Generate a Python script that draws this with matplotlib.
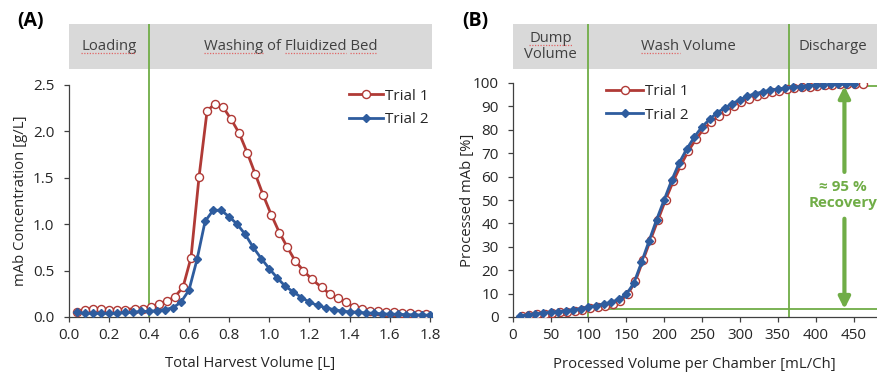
import matplotlib.pyplot as plt
from matplotlib.lines import Line2D

plt.rcParams['font.family'] = ['Open Sans', 'DejaVu Sans']
plt.rcParams['text.color'] = '#262626'
plt.rcParams['axes.labelcolor'] = '#262626'
plt.rcParams['xtick.color'] = '#404040'
plt.rcParams['ytick.color'] = '#404040'
plt.rcParams['xtick.labelcolor'] = '#262626'
plt.rcParams['ytick.labelcolor'] = '#262626'

# (A) elution peak
vol_t1 = [0.04, 0.08, 0.12, 0.16, 0.20, 0.24, 0.28, 0.33, 0.37, 0.41, 0.45,
          0.49, 0.53, 0.57, 0.61, 0.65, 0.69, 0.73, 0.77, 0.81, 0.85, 0.89,
          0.93, 0.97, 1.01, 1.05, 1.09, 1.13, 1.17, 1.21, 1.26, 1.30, 1.34,
          1.38, 1.42, 1.46, 1.50, 1.54, 1.58, 1.62, 1.66, 1.70, 1.74, 1.78]
conc_t1 = [0.05, 0.08, 0.09, 0.09, 0.08, 0.08, 0.08, 0.09, 0.09, 0.11, 0.14,
           0.17, 0.22, 0.32, 0.64, 1.51, 2.22, 2.30, 2.26, 2.13, 1.98, 1.77,
           1.54, 1.31, 1.10, 0.91, 0.75, 0.60, 0.50, 0.41, 0.32, 0.25, 0.20,
           0.16, 0.11, 0.085, 0.07, 0.06, 0.055, 0.05, 0.045, 0.04, 0.035, 0.03]
vol_t2 = [0.04, 0.08, 0.12, 0.16, 0.20, 0.24, 0.28, 0.32, 0.36, 0.40, 0.44,
          0.48, 0.52, 0.56, 0.60, 0.64, 0.68, 0.72, 0.76, 0.80, 0.84, 0.88,
          0.92, 0.96, 1.00, 1.04, 1.08, 1.12, 1.16, 1.20, 1.24, 1.28, 1.32,
          1.36, 1.40, 1.44, 1.48, 1.52, 1.56, 1.60, 1.64, 1.68, 1.72, 1.76, 1.80]
conc_t2 = [0.05, 0.04, 0.04, 0.04, 0.04, 0.04, 0.05, 0.05, 0.06, 0.06, 0.07,
           0.08, 0.10, 0.16, 0.29, 0.62, 1.03, 1.15, 1.15, 1.08, 1.00, 0.89,
           0.75, 0.63, 0.52, 0.42, 0.33, 0.27, 0.21, 0.16, 0.125, 0.10, 0.08,
           0.065, 0.055, 0.05, 0.045, 0.04, 0.035, 0.03, 0.03, 0.025, 0.025, 0.02, 0.02]

# (B) cumulative processed mAb
vol_b1 = [12, 22, 32, 42, 52, 62, 72, 82, 92, 102, 112, 122, 132, 142, 152,
          162, 172, 182, 192, 202, 212, 222, 232, 242, 252, 262, 272, 282, 292,
          302, 312, 322, 332, 342, 352, 362, 372, 382, 392, 402, 412, 422, 432,
          442, 452, 462]
pct_t1 = [0.3, 0.7, 1.1, 1.4, 1.7, 2.0, 2.3, 2.7, 3.2, 3.7, 4.2, 4.9, 5.7, 7.0,
          9.7, 15.3, 24.2, 33.0, 41.6, 50.2, 58.0, 64.9, 71.0, 76.0, 80.3, 83.3,
          86.0, 88.0, 90.0, 91.7, 93.2, 94.3, 95.2, 96.0, 96.7, 97.3, 97.8, 98.2,
          98.5, 98.8, 99.0, 99.2, 99.4, 99.5, 99.6, 99.7]
vol_b2 = [10, 20, 30, 40, 50, 60, 70, 80, 90, 100, 110, 120, 130, 140, 150,
          160, 170, 180, 190, 200, 210, 220, 230, 240, 250, 260, 270, 280, 290,
          300, 310, 320, 330, 340, 350, 360, 370, 380, 390, 400, 410, 420, 430,
          440, 450]
pct_t2 = [0.5, 1.0, 1.4, 1.7, 2.0, 2.3, 2.7, 3.1, 3.6, 4.2, 4.8, 5.5, 6.3, 7.6,
          9.7, 14.5, 23.3, 32.5, 41.6, 50.1, 58.5, 66.0, 71.9, 77.0, 81.3, 84.5,
          87.3, 89.4, 91.2, 92.9, 94.4, 95.4, 96.2, 96.9, 97.4, 97.8, 98.2, 98.5,
          98.8, 99.0, 99.2, 99.4, 99.5, 99.6, 99.7]

phase_a = ['Loading', 'Washing of Fluidized Bed']
phase_a_edges = [0, 0.4, 1.81]
phase_b = ['Dump\nVolume', 'Wash Volume', 'Discharge']
phase_b_edges = [0, 100, 365, 481]
recovery_lo, recovery_hi = 3.4, 98.7

RED = '#B03A36'
BLUE = '#2E5C9E'
GREEN = '#70AD47'
GRAY = '#D9D9D9'

W, H = 878, 376
fig = plt.figure(figsize=(W / 100, H / 100), dpi=100)


def box(l, t, r, b):
    return [l / W, 1 - b / H, (r - l) / W, (b - t) / H]


def style_main(ax):
    for s in ['top', 'right']:
        ax.spines[s].set_visible(False)
    for s in ['left', 'bottom']:
        ax.spines[s].set_color('#404040')
        ax.spines[s].set_linewidth(0.9)
    ax.tick_params(direction='out', length=3.6, width=0.9, labelsize=11)
    ax.tick_params(axis='x', pad=4.5)
    ax.tick_params(axis='y', pad=6.5)


def header(ax, names, edges, xlim):
    ax.set_facecolor(GRAY)
    ax.set_xlim(xlim)
    ax.set_ylim(0, 1)
    ax.set_xticks([])
    ax.set_yticks([])
    for s in ax.spines.values():
        s.set_visible(False)
    texts = []
    for i, name in enumerate(names):
        texts.append(ax.text((edges[i] + edges[i + 1]) / 2, 0.5, name,
                             ha='center', va='center', fontsize=10.7,
                             color='#404040', linespacing=1.0))
    for e in edges[1:-1]:
        ax.axvline(e, color=GREEN, lw=1.3)
    return texts


def trials(ax, x1, y1, x2, y2):
    ax.plot(x1, y1, color=RED, lw=2, marker='o', ms=5.8, mfc='white',
            mec=RED, mew=1.0, label='Trial 1', zorder=3)
    ax.plot(x2, y2, color=BLUE, lw=2, marker='D', ms=3.6, mfc=BLUE,
            mec=BLUE, label='Trial 2', zorder=4)


# ---- panel A
axA = fig.add_axes(box(68.5, 85, 432, 317))
hdrA = fig.add_axes(box(68.5, 24, 432, 69))
txtA = header(hdrA, phase_a, phase_a_edges, (0, 1.81))
trials(axA, vol_t1, conc_t1, vol_t2, conc_t2)
axA.set_xlim(0, 1.81)
axA.set_ylim(0, 2.5)
axA.set_xticks([0.0, 0.2, 0.4, 0.6, 0.8, 1.0, 1.2, 1.4, 1.6, 1.8])
axA.set_yticks([0.0, 0.5, 1.0, 1.5, 2.0, 2.5])
axA.xaxis.set_major_formatter('{x:.1f}')
axA.yaxis.set_major_formatter('{x:.1f}')
style_main(axA)
axA.axvline(0.4, ymin=0, ymax=(317 - 69) / (317 - 85), color=GREEN, lw=1.3,
            clip_on=False, zorder=1)
axA.set_xlabel('Total Harvest Volume [L]', fontsize=10.7)
axA.set_ylabel('mAb Concentration [g/L]', fontsize=10.7)
axA.xaxis.set_label_coords(0.5, -0.17)
axA.yaxis.set_label_coords(-0.111, 0.5)
axA.legend(loc='upper left', bbox_to_anchor=(0.755, 1.01), frameon=False,
           fontsize=11, handlelength=2.2, handletextpad=0.15,
           labelspacing=0.55, borderaxespad=0)
fig.text(17 / W, 1 - 21 / H, '(A)', fontsize=14, fontweight='bold',
         va='center', color='black')

# ---- panel B
axB = fig.add_axes(box(512.7, 83, 877, 317))
hdrB = fig.add_axes(box(512.7, 24, 877, 69))
txtB = header(hdrB, phase_b, phase_b_edges, (0, 481))
trials(axB, vol_b1, pct_t1, vol_b2, pct_t2)
axB.set_xlim(0, 481)
axB.set_ylim(0, 100)
axB.set_xticks(range(0, 451, 50))
axB.set_yticks(range(0, 101, 10))
style_main(axB)
for e in phase_b_edges[1:-1]:
    axB.axvline(e, ymin=0, ymax=(317 - 69) / (317 - 83), color=GREEN, lw=1.3,
                clip_on=False, zorder=1)
axB.hlines(recovery_lo, 100, 481, color=GREEN, lw=1.3, zorder=1)
axB.hlines(recovery_hi, 365, 481, color=GREEN, lw=1.3, zorder=1)
axB.annotate('', xy=(438, recovery_hi), xytext=(438, 62),
             arrowprops=dict(arrowstyle='-|>', color=GREEN, lw=3,
                             mutation_scale=17, shrinkA=0, shrinkB=0))
axB.annotate('', xy=(438, recovery_lo), xytext=(438, 42),
             arrowprops=dict(arrowstyle='-|>', color=GREEN, lw=3,
                             mutation_scale=17, shrinkA=0, shrinkB=0))
axB.text(436, 52, '≈ 95 %\nRecovery', ha='center', va='center', color=GREEN,
         fontsize=11, fontweight='bold', linespacing=1.15)
axB.set_xlabel('Processed Volume per Chamber [mL/Ch]', fontsize=10.7)
axB.set_ylabel('Processed mAb [%]', fontsize=10.7)
axB.xaxis.set_label_coords(0.5, -0.17)
axB.yaxis.set_label_coords(-0.104, 0.5)
axB.legend(loc='upper left', bbox_to_anchor=(0.24, 1.02), frameon=False,
           fontsize=11, handlelength=2.4, handletextpad=0.15,
           labelspacing=0.55, borderaxespad=0)
fig.text(462 / W, 1 - 21 / H, '(B)', fontsize=14, fontweight='bold',
         va='center', color='black')

# red dotted spell-check marks under some header words
fig.canvas.draw()
rend = fig.canvas.get_renderer()


def mark_words(t, words):
    bb = t.get_window_extent(rend)
    lines = t.get_text().split('\n')
    fp = t.get_fontproperties()
    line_h = bb.height / len(lines)
    for k, line in enumerate(lines):
        lw_px = rend.get_text_width_height_descent(line, fp, ismath=False)[0]
        x_start = bb.x0 + (bb.width - lw_px) / 2
        y = bb.y1 - (k + 1) * line_h + 1.5
        pos = 0
        for w in line.split(' '):
            if w in words:
                pre = line[:pos]
                x0 = x_start + (rend.get_text_width_height_descent(
                    pre, fp, ismath=False)[0] if pre else 0)
                ww = rend.get_text_width_height_descent(w, fp, ismath=False)[0]
                fig.add_artist(Line2D([x0, x0 + ww], [y, y], transform=None,
                                      color='#E06666', lw=0.9, ls=(0, (1, 1.2))))
            pos += len(w) + 1


mark_words(txtA[0], ['Loading'])
mark_words(txtA[1], ['Washing', 'Fluidized', 'Bed'])
mark_words(txtB[0], ['Dump'])
mark_words(txtB[1], ['Wash'])

fig.savefig('out.png', dpi=100)
